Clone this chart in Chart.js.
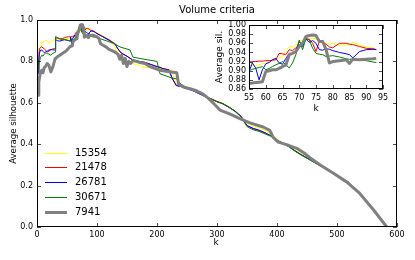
<!DOCTYPE html>
<html>
<head>
<meta charset="utf-8">
<script src="https://cdn.jsdelivr.net/npm/chart.js@4.4.0/dist/chart.umd.min.js"></script>
<style>
  html, body { margin: 0; padding: 0; background: #fff; }
  #wrap { position: relative; width: 415px; height: 260px; }
  #main { position: absolute; left: 0; top: 0; }
  #inset { position: absolute; left: 200px; top: 0; }
</style>
</head>
<body>
<div id="wrap">
  <canvas id="main" width="415" height="260"></canvas>
  <canvas id="inset" width="200" height="120"></canvas>
</div>
<script>
const FONT = "'DejaVu Sans', sans-serif";

// series names / colours (legend order)
const seriesNames = ['15354', '21478', '26781', '30671', '7941'];
const seriesColors = ['#ffff00', '#ff0000', '#0000ff', '#008000', '#808080'];
const seriesWidths = [1, 1, 1, 1, 3];

// k values
const kEarly = [2, 3, 4, 6, 8, 10, 12, 14, 17, 20, 23, 26, 29, 30, 31, 34, 38, 42, 46, 50, 53];
const kInset = [55, 56, 57, 58, 59, 60, 61, 62, 63, 64, 65, 66, 67, 68, 69, 70, 71, 72, 73, 74, 75, 76, 77, 78, 79, 80, 82, 84, 85, 86, 88, 90, 92, 93];
const kLate = [95, 100, 110, 120, 130, 135, 140, 150, 155, 160, 170, 180, 190, 200, 205, 210, 220, 225, 232, 240, 250, 260, 270, 280, 290, 300, 310, 320, 330, 340, 350, 360, 370, 380, 390, 400, 410, 420, 430, 440, 450, 460, 470, 480, 490, 500, 510, 520];
const kLateGray = [95, 100, 103, 106, 110, 115, 120, 125, 130, 135, 138, 141, 144, 147, 150, 153, 156, 160, 165, 172, 180, 188, 195, 205, 215, 227, 233, 236, 245, 255, 266, 275, 283, 294, 305, 322, 338, 355, 377, 388, 394, 402, 416, 433, 444, 455, 472, 494, 516, 538, 561, 583];

// average silhouette values
const yellowEarly = [0.71, 0.80, 0.86, 0.875, 0.89, 0.893, 0.895, 0.90, 0.90, 0.888, 0.895, 0.90, 0.905, 0.907, 0.908, 0.91, 0.91, 0.91, 0.91, 0.91, 0.91];
const redEarly = [0.75, 0.82, 0.86, 0.868, 0.87, 0.865, 0.862, 0.855, 0.845, 0.85, 0.855, 0.86, 0.862, 0.862, 0.915, 0.912, 0.908, 0.91, 0.915, 0.918, 0.919];
const blueEarly = [0.74, 0.80, 0.84, 0.855, 0.855, 0.848, 0.842, 0.845, 0.85, 0.855, 0.858, 0.856, 0.855, 0.856, 0.905, 0.90, 0.898, 0.902, 0.905, 0.902, 0.90];
const greenEarly = [0.76, 0.78, 0.80, 0.82, 0.83, 0.825, 0.835, 0.84, 0.84, 0.835, 0.83, 0.838, 0.842, 0.845, 0.92, 0.915, 0.91, 0.905, 0.905, 0.903, 0.90];
const grayEarly = [0.636, 0.70, 0.72, 0.75, 0.757, 0.745, 0.77, 0.775, 0.79, 0.78, 0.749, 0.77, 0.80, 0.813, 0.815, 0.822, 0.83, 0.838, 0.845, 0.855, 0.865];

const yellowInset = [.910, .911, .912, .913, .915, .916, .918, .920, .925, .928, .930, .945, .953, .952, .955, .964, .967, .969, .970, .971, .970, .968, .962, .960, .958, .960, .956, .956, .958, .962, .956, .952, .950, .947];
const redInset = [.919, .920, .920, .921, .921, .922, .922, .923, .924, .938, .937, .935, .946, .944, .950, .956, .962, .969, .969, .960, .942, .964, .962, .958, .952, .950, .960, .960, .958, .957, .953, .949, .948, .946];
const blueInset = [.898, .917, .906, .880, .902, .915, .918, .924, .927, .917, .914, .927, .938, .937, .945, .964, .953, .969, .962, .966, .960, .946, .945, .948, .947, .944, .940, .937, .935, .928, .942, .946, .947, .946];
const greenInset = [.900, .903, .905, .907, .909, .902, .905, .909, .913, .916, .920, .913, .906, .917, .935, .967, .946, .971, .967, .949, .938, .936, .935, .931, .932, .933, .930, .926, .925, .925, .924, .922, .919, .918];
const grayInset = [.872, .873, .874, .875, .876, .898, .900, .902, .902, .905, .909, .912, .935, .938, .942, .953, .960, .975, .977, .978, .977, .964, .964, .946, .917, .920, .922, .924, .916, .925, .924, .925, .926, .927];

const yellowLate = [.946, .938, .922, .90, .87, .83, .805, .80, .795, .79, .78, .77, .77, .768, .765, .765, .76, .755, .69, .685, .672, .66, .645, .632, .62, .607, .598, .58, .562, .53, .50, .49, .48, .465, .45, .425, .405, .39, .375, .358, .338, .32, .302, .287, .27, .25, .232, .215];
const redLate = [.945, .935, .92, .905, .885, .86, .84, .825, .815, .805, .80, .795, .785, .775, .77, .765, .76, .72, .685, .68, .67, .66, .645, .632, .62, .607, .596, .58, .56, .535, .49, .475, .465, .455, .44, .418, .405, .388, .368, .35, .333, .316, .30, .285, .268, .25, .232, .215];
const blueLate = [.944, .934, .918, .902, .883, .86, .842, .825, .815, .808, .80, .795, .785, .775, .772, .765, .758, .72, .683, .678, .668, .658, .644, .63, .618, .605, .595, .578, .56, .535, .49, .477, .468, .455, .44, .42, .405, .388, .368, .35, .334, .317, .30, .285, .268, .25, .232, .215];
const greenLate = [.918, .915, .905, .895, .885, .875, .868, .86, .855, .82, .815, .81, .805, .80, .74, .735, .725, .72, .716, .69, .672, .66, .646, .632, .619, .605, .595, .578, .558, .532, .485, .47, .462, .45, .438, .415, .403, .387, .366, .348, .332, .315, .298, .283, .266, .248, .23, .213];
const grayLate = [.925, .918, .912, .885, .878, .87, .858, .852, .845, .835, .81, .83, .79, .815, .775, .80, .79, .805, .80, .795, .79, .775, .768, .757, .752, .748, .745, .69, .675, .668, .658, .645, .628, .598, .565, .545, .524, .503, .483, .467, .432, .41, .398, .38, .36, .335, .30, .26, .218, .162, .082, 0];

// tick labels
const xTicksMain = [0, 100, 200, 300, 400, 500, 600];
const yTicksMain = [0, 0.2, 0.4, 0.6, 0.8, 1.0];
const xTicksInset = [55, 60, 65, 70, 75, 80, 85, 90, 95];
const yTicksInset = [0.86, 0.88, 0.90, 0.92, 0.94, 0.96, 0.98, 1.00];

function pts(ks, vs) {
  return ks.map((k, i) => ({ x: k, y: vs[i] }));
}

const mainData = [
  pts(kEarly, yellowEarly).concat(pts(kInset, yellowInset), pts(kLate, yellowLate)),
  pts(kEarly, redEarly).concat(pts(kInset, redInset), pts(kLate, redLate)),
  pts(kEarly, blueEarly).concat(pts(kInset, blueInset), pts(kLate, blueLate)),
  pts(kEarly, greenEarly).concat(pts(kInset, greenInset), pts(kLate, greenLate)),
  pts(kEarly, grayEarly).concat(pts(kInset, grayInset), pts(kLateGray, grayLate))
];
const insetData = [
  pts(kInset, yellowInset), pts(kInset, redInset), pts(kInset, blueInset),
  pts(kInset, greenInset), pts(kInset, grayInset)
];

function datasets(list) {
  return list.map((d, i) => ({
    label: seriesNames[i],
    data: d,
    borderColor: seriesColors[i],
    borderWidth: seriesWidths[i],
    order: 5 - i,
    pointRadius: 0,
    tension: 0,
    fill: false,
    borderJoinStyle: 'round'
  }));
}

function axes(xr, xt, yr, yt, yDec, yW, xH, xPad, yPad) {
  return {
    x: {
      type: 'linear', min: xr[0], max: xr[1],
      grid: { display: false, drawTicks: false }, border: { display: false },
      afterBuildTicks: s => { s.ticks = xt.map(v => ({ value: v })); },
      afterFit: s => { s.height = xH; },
      ticks: { color: '#000', font: { family: FONT, size: 8 }, padding: xPad,
        maxRotation: 0, autoSkip: false, callback: v => String(v) }
    },
    y: {
      type: 'linear', min: yr[0], max: yr[1],
      grid: { display: false, drawTicks: false }, border: { display: false },
      afterBuildTicks: s => { s.ticks = yt.map(v => ({ value: v })); },
      afterFit: s => { s.width = yW; },
      ticks: { color: '#000', font: { family: FONT, size: 8 }, padding: yPad,
        autoSkip: false, callback: v => Number(v).toFixed(yDec) }
    }
  };
}

// frame, inward ticks, texts, legend
const framePlugin = {
  id: 'frame',
  beforeDraw(chart, args, opts) {
    if (!opts.white) return;
    const a = chart.chartArea, ctx = chart.ctx;
    ctx.save();
    ctx.fillStyle = '#fff';
    ctx.fillRect(a.left, a.top, a.right - a.left, a.bottom - a.top);
    ctx.restore();
  },
  afterDraw(chart, args, opts) {
    const { ctx, chartArea: a, scales } = chart;
    ctx.save();
    ctx.strokeStyle = '#000';
    ctx.lineWidth = 0.7;
    ctx.beginPath();
    opts.xt.forEach(v => {
      const p = Math.round(scales.x.getPixelForValue(v)) + 0.5;
      ctx.moveTo(p, a.bottom); ctx.lineTo(p, a.bottom - 4);
      ctx.moveTo(p, a.top); ctx.lineTo(p, a.top + 4);
    });
    opts.yt.forEach(v => {
      const p = Math.round(scales.y.getPixelForValue(v)) + 0.5;
      ctx.moveTo(a.left, p); ctx.lineTo(a.left + 4, p);
      ctx.moveTo(a.right, p); ctx.lineTo(a.right - 4, p);
    });
    ctx.stroke();
    ctx.lineWidth = 1;
    ctx.strokeRect(a.left + 0.5, a.top + 0.5, a.right - a.left - 1, a.bottom - a.top - 1);

    ctx.fillStyle = '#000';
    ctx.textAlign = 'center';
    ctx.textBaseline = 'middle';
    (opts.texts || []).forEach(t => {
      ctx.save();
      ctx.font = t.size + 'px ' + FONT;
      ctx.translate(t.x, t.y);
      if (t.rot) ctx.rotate(-Math.PI / 2);
      ctx.fillText(t.text, 0, 0);
      ctx.restore();
    });

    if (opts.legend) {
      ctx.font = '10px ' + FONT;
      ctx.textAlign = 'left';
      seriesNames.forEach((n, i) => {
        const y = Math.round(152.7 + i * 14.75) + 0.5;
        ctx.strokeStyle = seriesColors[i];
        ctx.lineWidth = seriesWidths[i];
        ctx.beginPath();
        ctx.moveTo(45, y); ctx.lineTo(67, y);
        ctx.stroke();
        ctx.fillStyle = '#000';
        ctx.fillText(n, 75, y);
      });
    }
    ctx.restore();
  }
};

const common = {
  responsive: false,
  animation: false,
  devicePixelRatio: 1,
  events: []
};

new Chart(document.getElementById('main'), {
  type: 'line',
  data: { datasets: datasets(mainData) },
  plugins: [framePlugin],
  options: Object.assign({}, common, {
    layout: { padding: { left: 0, top: 20, right: 18, bottom: 0 } },
    scales: axes([0, 600], xTicksMain, [0, 1], yTicksMain, 1, 37, 33, 3, 4),
    plugins: {
      legend: { display: false },
      tooltip: { enabled: false },
      frame: {
        xt: xTicksMain, yt: yTicksMain, legend: true,
        texts: [
          { text: 'Volume criteria', x: 217, y: 10, size: 10 },
          { text: 'Average silhouette', x: 13.3, y: 123.5, size: 8.6, rot: true },
          { text: 'k', x: 216, y: 243, size: 9 }
        ]
      }
    }
  })
});

new Chart(document.getElementById('inset'), {
  type: 'line',
  data: { datasets: datasets(insetData) },
  plugins: [framePlugin],
  options: Object.assign({}, common, {
    layout: { padding: { left: 0, top: 25, right: 17, bottom: 0 } },
    scales: axes([55, 95], xTicksInset, [0.86, 1.0], yTicksInset, 2, 49, 31, 4, 3),
    plugins: {
      legend: { display: false },
      tooltip: { enabled: false },
      frame: {
        xt: xTicksInset, yt: yTicksInset, white: true,
        texts: [
          { text: 'Average sil.', x: 20, y: 57, size: 9, rot: true },
          { text: 'k', x: 116, y: 109, size: 9 }
        ]
      }
    }
  })
});
</script>
</body>
</html>
